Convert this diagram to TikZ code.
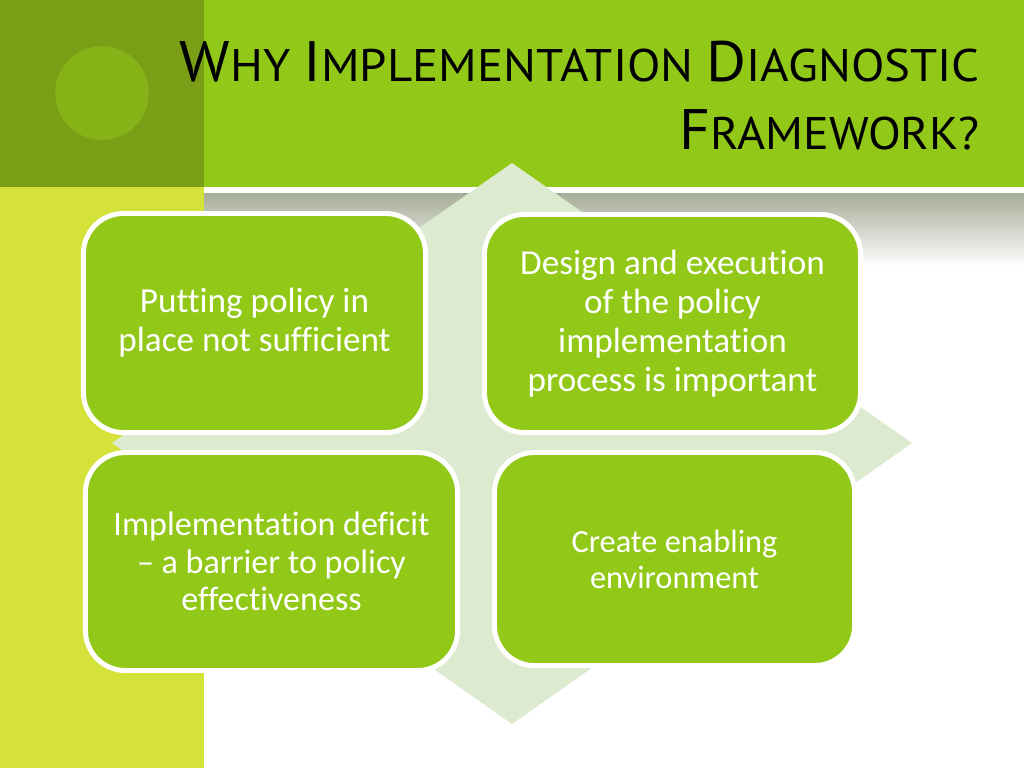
\documentclass[tikz,border=0pt]{standalone}
\usepackage{fontspec}
\setmainfont[Ligatures=NoCommon]{Carlito}
\newfontfamily\titlefont{PT Sans}
\usetikzlibrary{shapes.geometric}
\definecolor{leafgreen}{RGB}{146,201,25}
\definecolor{darkleaf}{RGB}{122,159,22}
\definecolor{dotgreen}{RGB}{134,180,24}
\definecolor{limestrip}{RGB}{213,226,58}
\definecolor{palegreen}{RGB}{220,235,208}
\definecolor{shadowgray}{RGB}{165,172,150}
\tikzstyle{card} = [rectangle, rounded corners=1cm, fill=leafgreen, draw=white, line width=3.5pt, text=white, align=center, font=\fontsize{25}{27.7}\selectfont]
\tikzstyle{heading} = [font=\titlefont\fontsize{32.5}{40}\selectfont, text=black, inner sep=0pt]
\newcommand{\scword}[2]{{\fontsize{40.6}{48}\selectfont #1}{\fontsize{32.5}{40}\selectfont #2}}

\begin{document}
\begin{tikzpicture}[x=0.025cm, y=-0.025cm]
        \useasboundingbox (0,0) rectangle (1024,768);
        \fill[white] (0,0) rectangle (1024,768);
        \fill[darkleaf] (0,0) rectangle (204,187);
        \fill[dotgreen] (102,93) circle (1.17cm);
        \fill[leafgreen] (204,0) rectangle (1024,187);
        \fill[limestrip] (0,187) rectangle (204,768);
        \fill[white] (204,187) rectangle (1024,193);
        \shade[top color=shadowgray, bottom color=white] (204,193) rectangle (1024,266);
        \fill[palegreen] (512,163) -- (912,443) -- (512,724) -- (112,443) -- cycle;

        \node (title) [heading, anchor=base east] at (980,82) {\scalebox{1.07}[1]{\scword{W}{HY} \scword{I}{MPLEMENTATION} \scword{D}{IAGNOSTIC}}};
        \node (title2) [heading, anchor=base east] at (980,150) {\scalebox{1.05}[1]{\scword{F}{RAMEWORK?}}};

        \node (putting) [card, minimum width=8.55cm, minimum height=5.475cm] at (254.5,323) {Putting policy in\\place not sufficient};
        \node (design) [card, minimum width=9.4cm, minimum height=5.45cm] at (672.5,323.5) {Design and execution\\of the policy\\implementation\\process is important};
        \node (deficit) [card, minimum width=9.3cm, minimum height=5.45cm, font=\fontsize{24.2}{26.8}\selectfont] at (271.5,561.5) {Implementation deficit\\-- a barrier to policy\\effectiveness};
        \node (enabling) [card, minimum width=9cm, minimum height=5.325cm, font=\fontsize{23}{25.5}\selectfont] at (674.5,559) {Create enabling\\environment};
    \end{tikzpicture}
\end{document}
